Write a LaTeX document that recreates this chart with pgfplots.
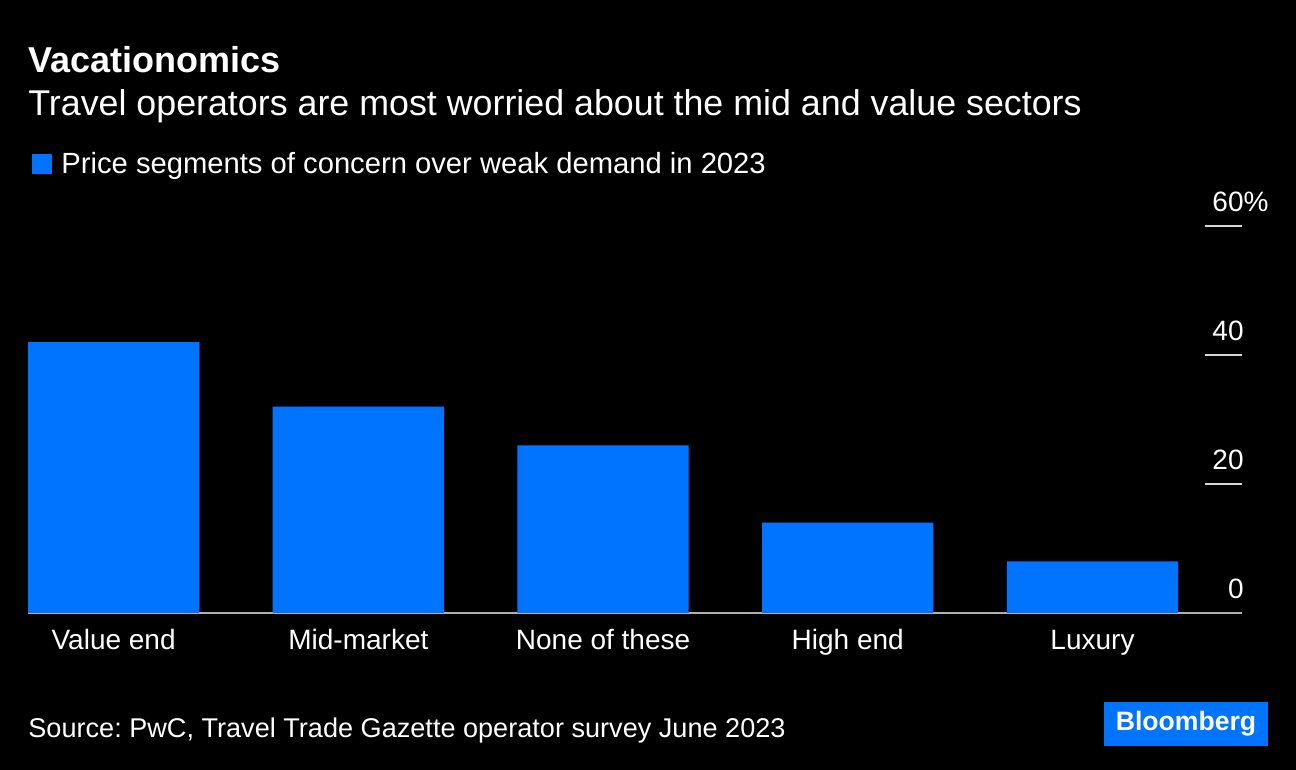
\documentclass[border=0pt]{standalone}
\usepackage{pgfplots}
\pgfplotsset{compat=1.18}
\usepackage{fontspec}
\setmainfont{Liberation Sans}
\frenchspacing
\definecolor{bbblue}{RGB}{0,116,255}
\definecolor{tickgray}{RGB}{215,215,215}
\definecolor{basegray}{RGB}{175,175,175}
\begin{document}
\begin{tikzpicture}[x=1pt,y=1pt]
\fill[black] (0,0) rectangle (648,385);
\node[anchor=base west, inner sep=0pt, text=white, font=\bfseries\fontsize{18}{20}\selectfont] at (14,348.5) {Vacationomics};
\node[anchor=base west, inner sep=0pt, text=white, font=\fontsize{17.9}{20}\selectfont] at (14,327) {Travel operators are most worried about the mid and value sectors};
\begin{axis}[
  scale only axis,
  width=607pt, height=193.5pt,
  at={(14pt,78.5pt)}, anchor=south west,
  xmin=-0.35, xmax=4.611,
  ymin=0, ymax=60,
  ybar, bar width=0.7,
  axis x line=bottom,
  axis y line=right,
  x axis line style={-, draw=basegray, line width=1pt},
  y axis line style={draw=none},
  xtick=data,
  xticklabels={Value end, Mid-market, None of these, High end, Luxury},
  xtick style={draw=none},
  xticklabel style={anchor=base, inner sep=0pt, yshift=-18.5pt, text=white, font=\fontsize{14}{16}\selectfont},
  ytick={0,20,40,60},
  yticklabels={0,20,40,60\rlap{\%}},
  ytick style={draw=tickgray, line width=1pt},
  tick align=inside,
  major tick length=18.5pt,
  yticklabel style={anchor=base east, inner sep=0pt, xshift=1pt, yshift=7pt, text=white, font=\fontsize{14}{16}\selectfont},
  /pgf/number format/assume math mode=true,
  legend style={at={(0.0033,1.16)}, anchor=west, draw=none, fill=none, text=white,
    font=\fontsize{14.6}{17}\selectfont, inner sep=0pt,
    /tikz/every odd column/.append style={column sep=2.5pt}},
  legend image code/.code={\fill[bbblue] (0pt,-5pt) rectangle (10pt,5pt);},
]
\addplot[fill=bbblue, draw=none] coordinates {(0,42) (1,32) (2,26) (3,14) (4,8)};
\legend{Price segments of concern over weak demand in 2023}
\end{axis}
\node[anchor=base west, inner sep=0pt, text=white, font=\fontsize{13.55}{16}\selectfont] at (14,16) {Source: PwC, Travel Trade Gazette operator survey June 2023};
\fill[bbblue] (552,12) rectangle (634,34);
\node[text=white, inner sep=0pt, font=\bfseries\fontsize{13.3}{15}\selectfont] at (593,23) {Bloomberg};
\pgfresetboundingbox
\path (0,0) rectangle (648,385);
\end{tikzpicture}
\end{document}
